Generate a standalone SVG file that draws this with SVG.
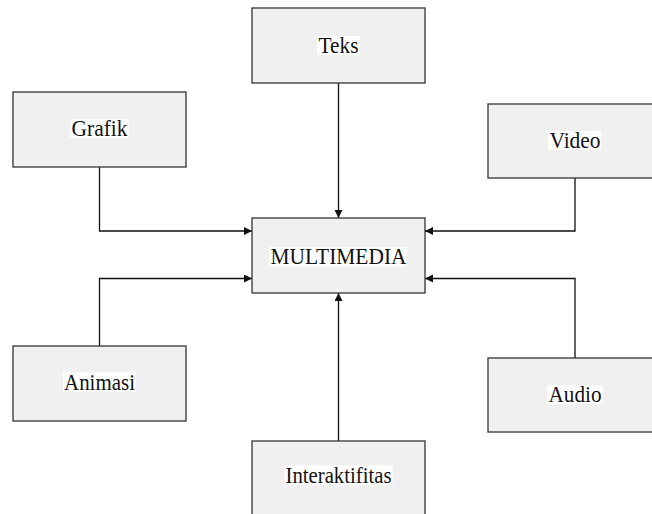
<svg xmlns="http://www.w3.org/2000/svg" width="652" height="514" viewBox="0 0 652 514">
  <style>
    .box { fill: #f0f0f0; stroke: #333; stroke-width: 1.3; }
    .hl { fill: #ffffff; }
    .lbl { font-family: "Liberation Serif", "Times New Roman", serif; font-size: 23px; fill: #111; text-anchor: middle; }
    .wire { fill: none; stroke: #111; stroke-width: 1.3; }
  </style>
  <defs>
    <marker id="arrow" markerUnits="userSpaceOnUse" markerWidth="9" markerHeight="9" refX="8" refY="4" orient="auto">
      <path d="M0,0 L8,4 L0,8 z" fill="#111"/>
    </marker>
  </defs>
  <rect width="652" height="514" fill="#ffffff"/>

  <!-- connectors -->
  <g id="connectors">
    <path class="wire" d="M338.5 83 V218" marker-end="url(#arrow)"/>
    <path class="wire" d="M99.5 167 V231 H252" marker-end="url(#arrow)"/>
    <path class="wire" d="M575 178 V231 H425" marker-end="url(#arrow)"/>
    <path class="wire" d="M99.5 346 V278.5 H252" marker-end="url(#arrow)"/>
    <path class="wire" d="M575 358 V278.5 H425" marker-end="url(#arrow)"/>
    <path class="wire" d="M338.5 441 V293" marker-end="url(#arrow)"/>
  </g>

  <g id="teks">
    <rect class="box" x="252" y="8" width="173" height="75"/>
    <rect class="hl" x="317" y="36" width="43" height="19"/>
    <text class="lbl" x="338.5" y="53" textLength="40" lengthAdjust="spacingAndGlyphs">Teks</text>
  </g>

  <g id="grafik">
    <rect class="box" x="13" y="92" width="173" height="75"/>
    <rect class="hl" x="70.5" y="119" width="58" height="19"/>
    <text class="lbl" x="99.5" y="136" textLength="56" lengthAdjust="spacingAndGlyphs">Grafik</text>
  </g>

  <g id="video">
    <rect class="box" x="488" y="104" width="174" height="74"/>
    <rect class="hl" x="548" y="131" width="53" height="19"/>
    <text class="lbl" x="575" y="148" textLength="51" lengthAdjust="spacingAndGlyphs">Video</text>
  </g>

  <g id="multimedia">
    <rect class="box" x="252" y="218" width="173" height="75"/>
    <rect class="hl" x="269" y="247" width="138" height="19.5"/>
    <text class="lbl" x="338.5" y="264.3" textLength="136" lengthAdjust="spacingAndGlyphs">MULTIMEDIA</text>
  </g>

  <g id="animasi">
    <rect class="box" x="13" y="346" width="173" height="75"/>
    <rect class="hl" x="63" y="372.5" width="73" height="19"/>
    <text class="lbl" x="99.5" y="389.5" textLength="71" lengthAdjust="spacingAndGlyphs">Animasi</text>
  </g>

  <g id="audio">
    <rect class="box" x="488" y="358" width="174" height="74"/>
    <rect class="hl" x="547.5" y="385" width="55" height="19"/>
    <text class="lbl" x="575" y="401.7" textLength="53" lengthAdjust="spacingAndGlyphs">Audio</text>
  </g>

  <g id="interaktifitas">
    <rect class="box" x="252" y="441" width="173" height="75"/>
    <rect class="hl" x="284.5" y="465.5" width="108" height="19"/>
    <text class="lbl" x="338.5" y="482.7" textLength="106" lengthAdjust="spacingAndGlyphs">Interaktifitas</text>
  </g>
</svg>
